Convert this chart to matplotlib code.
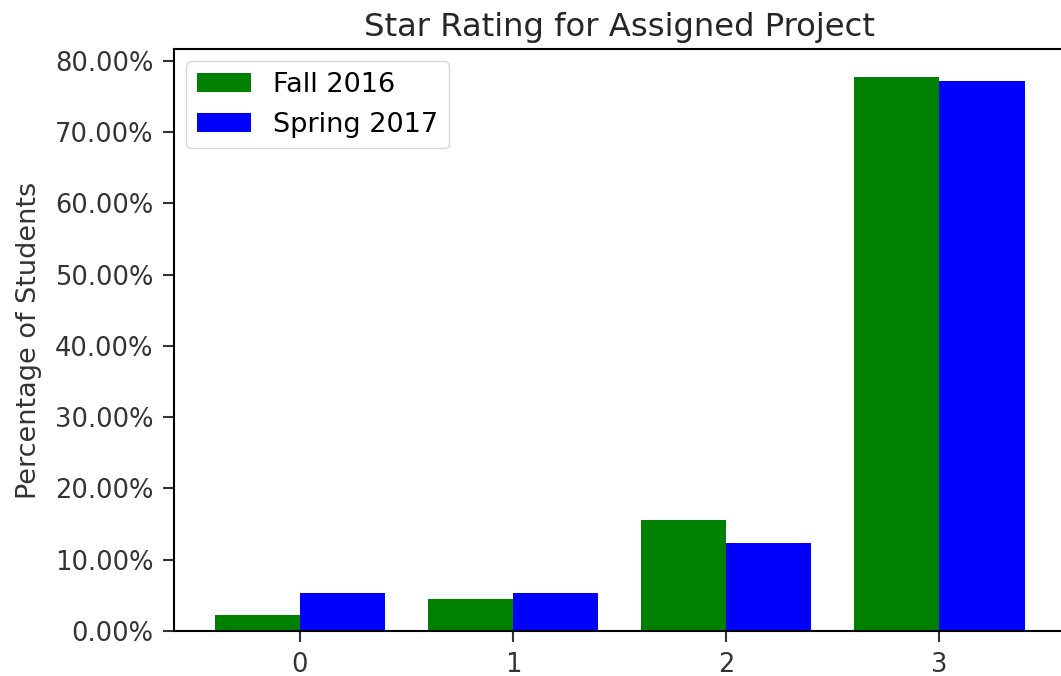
import matplotlib
matplotlib.use("Agg")
import matplotlib.pyplot as plt
from matplotlib.ticker import FuncFormatter
import numpy as np

# star ratings and percentage of students per term
ratings = [0, 1, 2, 3]
fall_2016 = [2.22, 4.44, 15.56, 77.78]
spring_2017 = [5.26, 5.26, 12.28, 77.19]
labels = ["Fall 2016", "Spring 2017"]

fig = plt.figure(figsize=(10.61, 6.76), dpi=100)
ax = fig.add_axes([0.164, 0.0666, 0.8398, 0.861])

x = np.arange(len(ratings))
width = 0.4
ax.bar(x - width / 2, fall_2016, width, color="green", label=labels[0])
ax.bar(x + width / 2, spring_2017, width, color="blue", label=labels[1])

ax.set_xticks(x)
ax.set_xticklabels([str(r) for r in ratings])
ax.set_yticks(np.arange(0, 81, 10))
ax.yaxis.set_major_formatter(FuncFormatter(lambda v, pos: "{:.2f}%".format(v)))
ax.tick_params(labelsize=18.5, length=8, width=1.5, colors="#333333", pad=7)
for s in ax.spines.values():
    s.set_linewidth(1.5)

ax.set_ylabel("Percentage of Students", fontsize=19.5, color="#333333", labelpad=9)
ax.set_title("Star Rating for Assigned Project", fontsize=23.2, color="#262626", pad=9)
ax.legend(loc="upper left", fontsize=19.5, borderaxespad=0.45)

fig.savefig("out.png", dpi=100)
